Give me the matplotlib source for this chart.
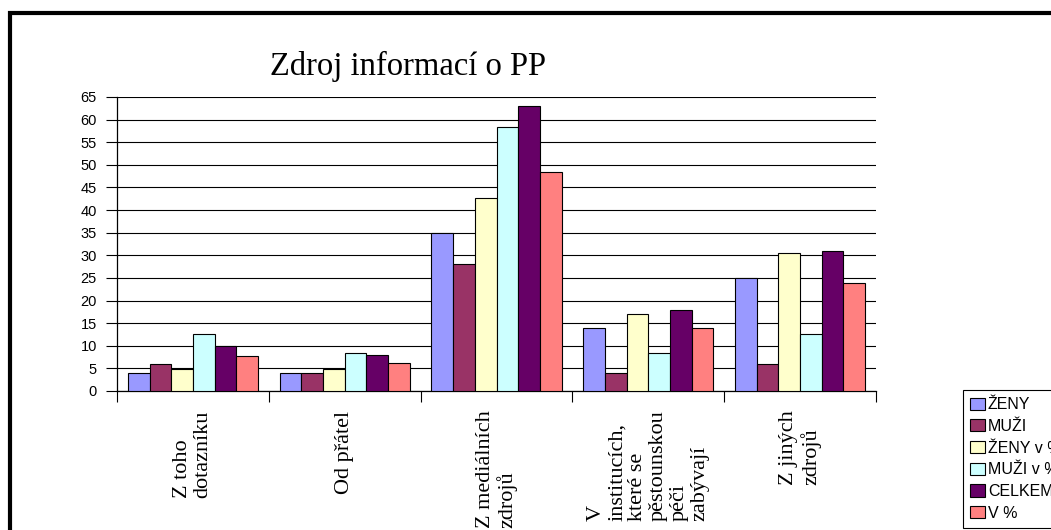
import matplotlib
matplotlib.use("Agg")
import matplotlib.pyplot as plt
from matplotlib.patches import Rectangle
import numpy as np

categories = [
    "Z toho\ndotazníku",
    "Od přátel",
    "Z mediálních\nzdrojů",
    "V\ninstitucích,\nkteré se\npěstounskou\npéči\nzabývají",
    "Z jiných\nzdrojů",
]
series_names = ["ŽENY", "MUŽI", "ŽENY v %", "MUŽI v %", "CELKEM", "V %"]
zeny = [4, 4, 35, 14, 25]
muzi = [6, 4, 28, 4, 6]
zeny_pct = [4.9, 4.9, 42.6, 17.1, 30.5]
muzi_pct = [12.5, 8.3, 58.3, 8.3, 12.5]
celkem = [10, 8, 63, 18, 31]
v_pct = [7.7, 6.1, 48.4, 13.9, 23.8]
y_ticks = list(range(0, 66, 5))
title = "Zdroj informací o PP"

series = [zeny, muzi, zeny_pct, muzi_pct, celkem, v_pct]
colors = ["#9999FF", "#993366", "#FFFFCC", "#CCFFFF", "#660066", "#FF8080"]

W, H = 1051, 530
fig = plt.figure(figsize=(W / 100, H / 100), dpi=100)

def fx(px):
    return px / W

def fy(py):
    return 1 - py / H

# outer frame
fig.patches.append(Rectangle((fx(10), fy(560)), fx(1100), fy(13) - fy(560),
                             transform=fig.transFigure, fill=False,
                             edgecolor="black", linewidth=3.0))

ax = fig.add_axes([fx(117), fy(391), fx(876) - fx(117), fy(97) - fy(391)])

x = np.arange(len(categories))
bw = 1 / 7
for i, (vals, col, name) in enumerate(zip(series, colors, series_names)):
    ax.bar(x + (i - 2.5) * bw, vals, width=bw, color=col, edgecolor="black",
           linewidth=0.8, label=name, zorder=3)

ax.set_xlim(-0.5, len(categories) - 0.5)
ax.set_ylim(0, 65)
ax.set_yticks(y_ticks)
ax.set_yticklabels([str(t) for t in y_ticks], fontfamily="Liberation Sans", fontsize=10.5)
ax.tick_params(axis="y", length=8, width=0.8, pad=6.5, direction="out")
ax.yaxis.grid(True, color="black", linewidth=0.8, zorder=0)
ax.set_axisbelow(True)

ax.set_xticks(x)
ax.set_xticklabels(categories, rotation=90, fontfamily="Liberation Serif",
                   fontsize=16, linespacing=1.12)
for lbl in ax.get_xticklabels():
    lbl.set_multialignment("left")
    lbl.set_verticalalignment("top")
    lbl.set_horizontalalignment("center")
ax.tick_params(axis="x", which="major", length=0, pad=14)
ax.set_xticks(np.arange(-0.5, len(categories), 1), minor=True)
ax.tick_params(axis="x", which="minor", length=8, width=0.8, direction="out")

for s in ["top", "right"]:
    ax.spines[s].set_visible(False)
for s in ["left", "bottom"]:
    ax.spines[s].set_linewidth(0.9)
    ax.spines[s].set_color("black")

fig.text(fx(408), fy(75), title, fontfamily="Liberation Serif", fontsize=23.5,
         ha="center", va="baseline")

leg = fig.legend(loc="upper left", bbox_to_anchor=(fx(963), fy(390)),
                 bbox_transform=fig.transFigure, borderaxespad=0,
                 prop={"family": "Liberation Sans", "size": 11.5},
                 handlelength=0.95, handleheight=0.8, handletextpad=0.15,
                 labelspacing=0.42, borderpad=0.45, fancybox=False,
                 frameon=True, framealpha=1, edgecolor="black")
leg.get_frame().set_linewidth(0.8)

fig.savefig("out.png", dpi=100)
